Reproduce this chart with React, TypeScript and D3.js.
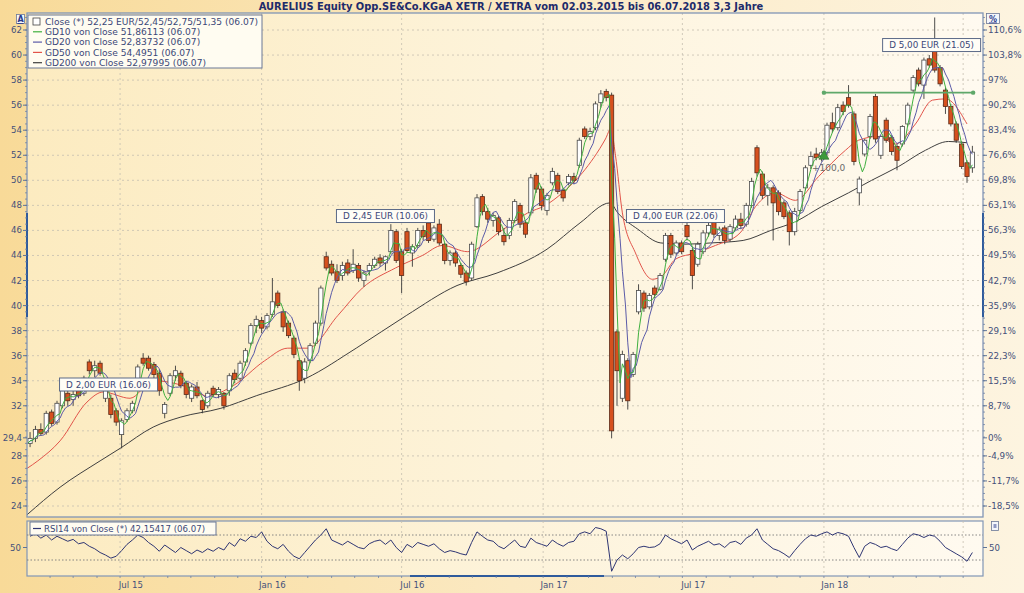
import React from 'react';
import * as d3 from 'd3';

const W = 1024;
const H = 593;
const START = '2015-03-02';
const END = '2018-07-06';

// Weekly candles [open, high, low, close]; week i starts START + 7*i days
const candles: [number, number, number, number][] = [
  [29.0, 29.9, 28.7, 29.4], [29.4, 30.4, 29.1, 30.1], [30.1, 30.6, 29.6, 29.8], [29.9, 31.6, 29.7, 31.4],
  [31.5, 31.7, 30.4, 30.6], [30.7, 32.4, 30.5, 32.2], [32.0, 33.4, 31.8, 33.2], [33.0, 33.3, 32.0, 32.4],
  [32.5, 33.3, 32.0, 32.9], [33.6, 33.9, 32.6, 32.8], [33.0, 34.4, 32.8, 34.2], [35.5, 35.7, 34.5, 34.8],
  [34.8, 35.6, 34.3, 35.2], [35.4, 35.6, 34.4, 34.6], [32.6, 33.6, 32.3, 33.2], [32.6, 32.9, 31.0, 31.3],
  [31.6, 31.8, 30.4, 30.7], [29.7, 31.0, 28.6, 30.8], [30.9, 31.8, 30.7, 31.6], [31.6, 32.4, 31.4, 32.2],
  [33.5, 35.3, 33.3, 35.1], [35.8, 36.2, 35.2, 35.4], [35.8, 36.0, 34.8, 35.0], [35.3, 35.5, 34.2, 34.5],
  [34.6, 34.9, 32.8, 33.2], [31.4, 32.3, 31.0, 32.1], [33.0, 34.6, 32.8, 34.4], [34.4, 35.2, 34.0, 34.8],
  [34.6, 34.8, 33.4, 33.6], [33.8, 34.0, 32.6, 32.9], [32.6, 33.7, 32.3, 33.5], [33.5, 33.9, 32.6, 32.8],
  [32.4, 32.5, 31.4, 31.7], [32.0, 33.2, 31.8, 33.0], [33.4, 33.6, 32.7, 32.9], [32.9, 33.5, 32.6, 33.3],
  [33.0, 33.1, 31.7, 32.0], [33.2, 34.6, 32.8, 34.4], [34.6, 34.9, 33.8, 34.1], [34.2, 35.6, 34.0, 35.4],
  [35.5, 36.6, 35.2, 36.4], [37.0, 38.6, 36.8, 38.4], [38.4, 39.2, 37.8, 38.9], [38.8, 39.1, 37.8, 38.2],
  [38.3, 39.4, 38.1, 39.2], [39.3, 42.2, 39.1, 40.3], [41.0, 41.2, 39.8, 40.0], [39.5, 39.7, 37.9, 38.3],
  [38.6, 38.8, 37.4, 37.6], [37.4, 37.6, 35.8, 36.1], [35.6, 35.8, 33.2, 34.0], [34.2, 35.8, 33.8, 35.5],
  [35.6, 37.0, 35.4, 36.8], [37.0, 38.8, 36.8, 38.6], [38.6, 41.6, 38.4, 41.4], [43.9, 44.3, 42.8, 43.0],
  [43.3, 43.6, 42.4, 42.6], [42.7, 43.3, 41.8, 42.0], [42.4, 43.5, 42.0, 43.2], [43.4, 43.7, 42.4, 42.6],
  [42.8, 44.5, 42.6, 43.3], [43.2, 43.4, 41.9, 42.2], [42.0, 42.8, 41.5, 42.6], [42.8, 43.4, 42.4, 43.2],
  [43.2, 43.9, 43.0, 43.7], [43.8, 44.1, 43.1, 43.4], [43.4, 44.0, 42.8, 43.9], [44.3, 46.5, 44.1, 46.0],
  [45.9, 46.1, 43.4, 43.6], [44.3, 44.5, 41.0, 42.4], [45.9, 46.2, 44.2, 44.4], [44.2, 44.9, 43.1, 44.7],
  [44.8, 46.2, 44.6, 46.0], [46.0, 46.4, 45.2, 45.5], [46.6, 46.9, 45.0, 45.2], [45.3, 46.4, 45.1, 46.2],
  [46.5, 46.9, 44.8, 45.0], [44.9, 45.0, 43.3, 43.6], [43.6, 44.4, 43.2, 44.2], [44.2, 44.4, 43.1, 43.4],
  [43.2, 43.4, 42.2, 42.5], [42.6, 42.8, 41.6, 41.9], [42.2, 45.1, 42.0, 44.9], [46.3, 48.9, 46.2, 48.6],
  [48.7, 48.9, 47.2, 47.5], [47.5, 47.8, 46.6, 46.9], [46.8, 47.4, 46.3, 47.2], [47.0, 47.2, 45.6, 45.9],
  [45.6, 46.2, 44.8, 45.1], [45.6, 47.0, 45.3, 46.8], [46.8, 48.5, 46.6, 48.3], [48.0, 48.2, 46.2, 46.5],
  [46.6, 46.8, 45.4, 45.7], [47.4, 50.5, 47.2, 50.2], [50.4, 50.6, 49.0, 49.3], [49.3, 49.5, 47.6, 48.0],
  [47.6, 49.0, 47.2, 48.8], [49.8, 51.0, 49.6, 50.7], [50.4, 50.6, 48.9, 49.1], [49.2, 49.4, 48.3, 48.6],
  [49.8, 50.5, 49.6, 50.3], [50.3, 50.6, 49.7, 50.0], [51.2, 53.4, 51.0, 53.2], [54.1, 54.3, 53.3, 53.5],
  [53.5, 54.2, 53.2, 53.9], [54.2, 56.3, 54.0, 56.1], [56.2, 57.2, 55.8, 56.9], [57.1, 57.3, 56.3, 56.6],
  [56.8, 57.0, 29.4, 30.0], [37.9, 38.1, 32.0, 34.8], [32.6, 36.4, 32.3, 36.1], [35.6, 35.8, 31.7, 32.4],
  [34.5, 36.3, 34.3, 36.1], [39.5, 41.7, 39.3, 41.2], [41.0, 41.2, 39.5, 39.8], [39.9, 41.0, 39.7, 40.8],
  [41.4, 41.6, 40.6, 40.9], [41.3, 42.6, 41.2, 42.4], [43.7, 45.8, 43.5, 45.6], [45.6, 45.8, 43.8, 44.1],
  [44.2, 45.2, 44.0, 45.0], [45.0, 45.2, 44.1, 44.3], [46.4, 46.8, 45.2, 45.5], [44.4, 44.6, 41.3, 42.4],
  [43.3, 45.1, 43.1, 44.9], [44.3, 46.0, 44.1, 45.8], [45.8, 46.7, 45.5, 46.4], [46.7, 46.9, 45.4, 45.7],
  [45.6, 46.3, 45.2, 46.1], [46.2, 46.4, 44.9, 45.2], [45.3, 46.5, 45.1, 46.3], [46.2, 47.2, 46.0, 46.9],
  [46.9, 47.4, 46.1, 46.4], [46.5, 48.2, 46.3, 48.0], [48.0, 50.2, 47.8, 49.9], [52.6, 52.8, 50.3, 50.6],
  [50.5, 50.7, 48.5, 48.8], [48.8, 49.7, 48.0, 49.4], [49.4, 49.6, 45.2, 48.2], [49.0, 49.2, 47.2, 47.5],
  [48.2, 48.4, 46.9, 47.1], [47.4, 47.6, 44.8, 45.9], [45.9, 47.8, 45.6, 47.5], [47.6, 49.3, 47.4, 49.1],
  [49.4, 51.2, 49.2, 51.0], [51.2, 52.3, 50.9, 51.9], [52.1, 52.6, 51.6, 51.8], [51.9, 52.5, 51.5, 52.2],
  [52.2, 54.6, 52.0, 54.4], [54.6, 55.4, 53.8, 54.1], [54.2, 56.1, 54.0, 55.8], [56.0, 56.3, 55.2, 55.5],
  [56.6, 57.6, 55.8, 56.0], [55.3, 55.5, 51.2, 51.5], [49.0, 50.3, 48.0, 50.1], [52.1, 53.3, 51.9, 53.2],
  [53.5, 55.3, 53.3, 55.1], [56.7, 56.9, 53.0, 53.3], [52.0, 53.6, 51.7, 53.5], [54.8, 55.0, 53.0, 53.2],
  [53.4, 53.6, 52.0, 52.3], [52.7, 52.9, 50.8, 51.6], [52.9, 54.4, 52.7, 54.3], [54.5, 56.2, 54.3, 56.0],
  [57.2, 58.4, 57.0, 58.2], [58.8, 59.0, 57.5, 57.7], [57.6, 59.8, 56.5, 59.6], [59.7, 60.0, 59.0, 59.2],
  [60.4, 63.0, 58.6, 58.8], [59.0, 59.2, 57.5, 57.7], [57.2, 57.4, 55.3, 55.9], [55.9, 56.1, 54.3, 54.5],
  [54.5, 54.7, 53.0, 53.2], [52.9, 53.1, 50.9, 51.1], [51.4, 51.6, 49.8, 50.3], [51.0, 52.75, 50.6, 52.25],
];

// Weekly RSI14 readings
const rsiWeekly: number[] = [
  68, 72, 65, 70, 62, 68, 64, 60, 63, 56, 58, 52, 48, 42, 38, 33, 36, 45, 55, 62,
  70, 66, 58, 52, 44, 54, 48, 42, 50, 45, 40, 46, 42, 48, 44, 50, 46, 58, 52, 64,
  60, 68, 66, 75, 60, 52, 48, 55, 44, 36, 32, 42, 52, 62, 70, 80, 62, 58, 54, 60,
  55, 50, 48, 56, 60, 62, 55, 62, 50, 42, 55, 50, 58, 55, 52, 56, 48, 42, 45, 43,
  40, 38, 58, 75, 68, 62, 60, 52, 48, 55, 62, 52, 50, 65, 58, 55, 52, 62, 56, 52,
  58, 60, 72, 75, 72, 82, 80, 76, 12, 30, 38, 32, 40, 50, 52, 50, 51, 56, 70, 64,
  60, 56, 62, 46, 52, 56, 60, 54, 56, 50, 58, 60, 55, 65, 70, 80, 62, 55, 48, 45,
  40, 34, 45, 55, 64, 70, 68, 72, 75, 70, 74, 72, 68, 50, 34, 52, 58, 55, 50, 52,
  48, 45, 55, 65, 72, 70, 66, 70, 68, 60, 50, 45, 40, 35, 28, 42,
];

// GD50 / GD200 readings [date, value]
const gd50Points: [string, number][] = [
  ['2015-03-02', 27.0], ['2015-03-16', 27.6], ['2015-04-14', 29.2], ['2015-05-19', 32.3], ['2015-06-09', 33.1],
  ['2015-07-14', 32.6], ['2015-08-13', 34.0], ['2015-09-26', 33.5], ['2015-10-22', 32.8], ['2015-11-25', 33.6],
  ['2016-01-05', 35.6], ['2016-02-04', 36.6], ['2016-03-01', 36.6], ['2016-04-09', 39.2], ['2016-05-11', 41.4],
  ['2016-06-23', 43.0], ['2016-07-28', 44.0], ['2016-08-23', 44.8], ['2016-09-25', 44.3], ['2016-11-06', 45.9],
  ['2016-12-12', 47.4], ['2017-01-04', 48.0], ['2017-01-26', 49.0], ['2017-02-21', 50.6], ['2017-03-23', 53.3],
  ['2017-03-30', 54.1], ['2017-04-05', 52.0], ['2017-04-14', 47.4], ['2017-05-01', 44.2], ['2017-05-23', 42.1],
  ['2017-06-05', 42.4], ['2017-06-22', 43.7], ['2017-07-18', 44.2], ['2017-08-13', 44.8], ['2017-09-14', 45.8],
  ['2017-10-04', 47.9], ['2017-10-30', 49.0], ['2017-11-25', 48.4], ['2017-12-25', 50.3], ['2018-01-29', 52.4],
  ['2018-02-15', 53.2], ['2018-03-13', 53.5], ['2018-04-04', 52.9], ['2018-04-30', 54.5], ['2018-05-22', 56.4],
  ['2018-06-08', 56.5], ['2018-07-06', 54.5],
];
const gd200Points: [string, number][] = [
  ['2015-03-02', 23.3], ['2015-04-14', 25.5], ['2015-06-05', 27.6], ['2015-07-01', 28.6], ['2015-08-13', 30.3],
  ['2015-09-18', 31.1], ['2015-11-09', 31.8], ['2015-12-25', 32.8], ['2016-02-28', 34.2], ['2016-05-03', 36.6],
  ['2016-07-07', 39.2], ['2016-09-11', 41.6], ['2016-11-02', 42.6], ['2017-01-06', 44.5], ['2017-02-18', 46.6],
  ['2017-03-29', 48.2], ['2017-04-08', 47.4], ['2017-05-04', 46.1], ['2017-06-03', 45.0], ['2017-07-04', 44.9],
  ['2017-08-07', 45.0], ['2017-09-18', 45.2], ['2017-10-24', 46.0], ['2017-11-25', 46.7], ['2017-12-29', 47.9],
  ['2018-02-02', 49.0], ['2018-03-04', 50.0], ['2018-04-08', 51.1], ['2018-05-13', 52.4], ['2018-06-12', 53.1],
  ['2018-07-06', 53.0],
];

// Dividend annotations [date, label, anchor price]
const dividends: [string, string, number][] = [
  ['2015-06-16', 'D 2,00 EUR (16.06)', 33.7],
  ['2016-06-10', 'D 2,45 EUR (10.06)', 47.15],
  ['2017-06-22', 'D 4,00 EUR (22.06)', 47.15],
  ['2018-05-21', 'D 5,00 EUR (21.05)', 60.8],
];

const resistance = { from: '2018-01-01', to: '2018-07-14', value: 57.0 };
const signal = { date: '2018-01-01', value: 52.0, label: '+100,0' };

const leftTicks: number[] = [62, 60, 58, 56, 54, 52, 50, 48, 46, 44, 42, 40, 38, 36, 34, 32, 29.44, 28, 26, 24];
const leftTickLabels: string[] = ['62', '60', '58', '56', '54', '52', '50', '48', '46', '44', '42', '40', '38', '36', '34', '32', '29,4', '28', '26', '24'];
const rightTickLabels: string[] = ['110,6%', '103,8%', '97%', '90,2%', '83,4%', '76,6%', '69,8%', '63,1%', '56,3%', '49,5%', '42,7%', '35,9%', '29,1%', '22,3%', '15,5%', '8,7%', '0%', '-4,9%', '-11,7%', '-18,5%'];
const gridPrices: number[] = [62, 60, 58, 56, 54, 52, 50, 48, 46, 44, 42, 40, 38, 36, 34, 32, 30, 28, 26, 24];
const xGridDates: string[] = ['2015-07-01', '2016-01-01', '2016-07-01', '2017-01-01', '2017-07-01', '2018-01-01', '2018-07-01'];
const xLabelDates: string[] = ['2015-07-15', '2016-01-15', '2016-07-15', '2017-01-15', '2017-07-15', '2018-01-15'];
const xLabels: string[] = ['Jul 15', 'Jan 16', 'Jul 16', 'Jan 17', 'Jul 17', 'Jan 18'];

const legendItems: [string, string][] = [
  ['box', 'Close (*) 52,25 EUR/52,45/52,75/51,35 (06.07)'],
  ['#3fb03f', 'GD10 von Close 51,86113 (06.07)'],
  ['#5b5ba8', 'GD20 von Close 52,83732 (06.07)'],
  ['#e2544a', 'GD50 von Close 54,4951 (06.07)'],
  ['#3f3f3f', 'GD200 von Close 52,97995 (06.07)'],
];

const TITLE = 'AURELIUS Equity Opp.SE&Co.KGaA XETR / XETRA vom 02.03.2015 bis 06.07.2018 3,3 Jahre';
const FONT = 'DejaVu Sans, Verdana, sans-serif';

export default function App() {
  const parse = d3.timeParse('%Y-%m-%d');
  const start = parse(START) as Date;
  const L = 27, R = 983, T = 13, B = 517;
  const RT = 521, RB = 576;
  const x = d3.scaleTime().domain([start, parse(END) as Date]).range([27, 967]);
  const y = d3.scaleLinear().domain([24, 62]).range([506, 30]);
  const ry = d3.scaleLinear().domain([30, 70]).range([560, 535]);
  const wd = (i: number, off: number) => d3.timeDay.offset(start, i * 7 + off);

  const half = candles.flatMap((c, i) => [
    { d: wd(i, 1), v: c[0] },
    { d: wd(i, 4), v: c[3] },
  ]);
  const ma = (n: number) =>
    half.map((p, k) => ({ d: p.d, v: d3.mean(half.slice(Math.max(0, k - n + 1), k + 1), (q) => q.v) as number }));
  const gd10 = ma(4);
  const gd20 = ma(8);
  const lineDV = d3.line<{ d: Date; v: number }>().x((p) => x(p.d)).y((p) => y(p.v));
  const linePts = d3
    .line<[string, number]>()
    .x((p) => x(parse(p[0]) as Date))
    .y((p) => y(p[1]))
    .curve(d3.curveMonotoneX);
  const rsiLine = d3
    .line<number>()
    .x((_, i) => x(wd(i, 4)))
    .y((v) => ry(v));

  const minorTicks = d3.range(24, 63.01, 0.5);
  const months = d3.timeMonth.range(d3.timeMonth.ceil(start), d3.timeDay.offset(parse(END) as Date, 20));

  return (
    <svg width={W} height={H} style={{ position: 'absolute', left: 0, top: 0 }} fontFamily={FONT}>
      <defs>
        <linearGradient id="outerG" x1="0" x2="1" y1="0" y2="0">
          <stop offset="0" stopColor="#f8da98" />
          <stop offset="0.5" stopColor="#fbe9c2" />
          <stop offset="1" stopColor="#fdf4e0" />
        </linearGradient>
        <linearGradient id="plotG" x1="0" x2="1" y1="0" y2="0">
          <stop offset="0" stopColor="#fcebc0" />
          <stop offset="0.5" stopColor="#fdf3da" />
          <stop offset="1" stopColor="#fffaf0" />
        </linearGradient>
        <clipPath id="mainClip">
          <rect x={L} y={T} width={R - L} height={B - T} />
        </clipPath>
        <clipPath id="rsiClip">
          <rect x={L} y={RT} width={R - L} height={RB - RT} />
        </clipPath>
      </defs>
      <rect width={W} height={H} fill="url(#outerG)" />
      <text x={511} y={10} textAnchor="middle" fontWeight="bold" fontSize={9.9} fill="#1d2b6b">
        {TITLE}
      </text>

      {/* main panel */}
      <rect x={L} y={T} width={R - L} height={B - T} fill="url(#plotG)" />
      {gridPrices.map((p) => (
        <line key={'hg' + p} x1={L} x2={R} y1={y(p)} y2={y(p)} stroke="#c5bfb0" strokeWidth={0.8} strokeDasharray="2,3" />
      ))}
      {xGridDates.map((d) => (
        <line key={'vg' + d} x1={x(parse(d) as Date)} x2={x(parse(d) as Date)} y1={T} y2={B} stroke="#c5bfb0" strokeWidth={0.8} strokeDasharray="2,3" />
      ))}

      <g clipPath="url(#mainClip)">
        <path d={linePts(gd200Points) || ''} fill="none" stroke="#3f3f3f" strokeWidth={1} />
        <path d={linePts(gd50Points) || ''} fill="none" stroke="#e2544a" strokeWidth={1} />
        {candles.map((c, i) => {
          const cx = x(wd(i, 4));
          const [o, h, l, cl] = c;
          const up = cl >= o;
          const top = y(Math.max(o, cl));
          const bot = y(Math.min(o, cl));
          return (
            <g key={'c' + i}>
              <line x1={cx} x2={cx} y1={y(h)} y2={y(l)} stroke="#3a3a3a" strokeWidth={0.9} />
              <rect
                x={cx - 2.1}
                y={top}
                width={4.2}
                height={Math.max(1, bot - top)}
                fill={up ? '#ffffff' : '#d6501e'}
                stroke={up ? '#4a4a4a' : '#5a2a18'}
                strokeWidth={0.8}
              />
            </g>
          );
        })}
        <path d={lineDV(gd20) || ''} fill="none" stroke="#5b5ba8" strokeWidth={1} />
        <path d={lineDV(gd10) || ''} fill="none" stroke="#3fb03f" strokeWidth={1} />

        {/* resistance line */}
        <line
          x1={x(parse(resistance.from) as Date)}
          x2={x(parse(resistance.to) as Date)}
          y1={y(resistance.value)}
          y2={y(resistance.value)}
          stroke="#5fa86a"
          strokeWidth={1.6}
        />
        {[resistance.from, resistance.to].map((d) => (
          <circle key={'rc' + d} cx={x(parse(d) as Date)} cy={y(resistance.value)} r={2.2} fill="#5fa86a" />
        ))}
        {/* signal */}
        {(() => {
          const sx = x(parse(signal.date) as Date);
          const sy = y(signal.value);
          return (
            <g>
              <path d={`M${sx - 5},${sy + 4} L${sx + 5},${sy + 4} L${sx},${sy - 5} Z`} fill="#3c9a3c" stroke="#2a6a2a" strokeWidth={0.6} />
              <text x={sx - 12} y={sy + 16} fontSize={9} fill="#6a6a6a">
                {signal.label}
              </text>
            </g>
          );
        })()}
        {/* dividend labels */}
        {dividends.map(([d, label, p]) => {
          const cx = x(parse(d) as Date);
          const cy = y(p);
          const w = 98;
          return (
            <g key={'dv' + d}>
              <rect x={cx - w / 2} y={cy - 6.5} width={w} height={13} fill="#fffdf6" stroke="#5c6a88" strokeWidth={1} />
              <text x={cx} y={cy + 3.2} textAnchor="middle" fontSize={8.8} fill="#3b4878">
                {label}
              </text>
            </g>
          );
        })}
      </g>

      {/* legend */}
      <rect x={28} y={15} width={234} height={53} fill="#fffcf1" stroke="#6b7896" strokeWidth={1} />
      {legendItems.map(([c, t], k) => {
        const ly = 21.5 + k * 10.3;
        return (
          <g key={'lg' + k}>
            {c === 'box' ? (
              <rect x={33} y={ly - 3.5} width={7} height={7} fill="#fff" stroke="#444" strokeWidth={0.8} />
            ) : (
              <line x1={33} x2={42} y1={ly} y2={ly} stroke={c} strokeWidth={1.2} />
            )}
            <text x={45} y={ly + 3.2} fontSize={9.1} fill="#3b4878">
              {t}
            </text>
          </g>
        );
      })}

      {/* frame */}
      <rect x={L} y={T} width={R - L} height={B - T} fill="none" stroke="#8196b6" strokeWidth={1.3} />
      <line x1={L} x2={L} y1={213} y2={317} stroke="#2f5b9c" strokeWidth={2} />
      <line x1={R} x2={R} y1={213} y2={317} stroke="#2f5b9c" strokeWidth={2} />

      {/* axes */}
      {minorTicks.map((p) => (
        <g key={'mt' + p}>
          <line x1={L - 2} x2={L} y1={y(p)} y2={y(p)} stroke="#6d82a6" strokeWidth={0.8} />
          <line x1={R} x2={R + 2} y1={y(p)} y2={y(p)} stroke="#6d82a6" strokeWidth={0.8} />
        </g>
      ))}
      {leftTicks.map((p, k) => (
        <g key={'lt' + k}>
          <line x1={L - 4} x2={L} y1={y(p)} y2={y(p)} stroke="#5f7498" strokeWidth={1} />
          <line x1={R} x2={R + 4} y1={y(p)} y2={y(p)} stroke="#5f7498" strokeWidth={1} />
          <text x={L - 5} y={y(p) + 3} textAnchor="end" fontSize={8.6} fill="#44507a">
            {leftTickLabels[k]}
          </text>
          <text x={R + 5} y={y(p) + 3} fontSize={8.8} fill="#44507a">
            {rightTickLabels[k]}
          </text>
        </g>
      ))}
      <rect x={16.5} y={14.5} width={8} height={9} fill="#f4f6fb" stroke="#6b7896" strokeWidth={0.8} />
      <text x={20.5} y={22} textAnchor="middle" fontSize={8} fontWeight="bold" fill="#2a3a8a" textDecoration="underline">
        A
      </text>
      <rect x={986.5} y={13.5} width={13} height={10} fill="#f4f6fb" stroke="#6b7896" strokeWidth={0.8} />
      <text x={993} y={21.5} textAnchor="middle" fontSize={8} fontWeight="bold" fill="#2a3a8a" textDecoration="underline">
        %
      </text>

      {/* RSI panel */}
      <rect x={L} y={RT} width={R - L} height={RB - RT} fill="url(#plotG)" stroke="#8196b6" strokeWidth={1.2} />
      {xGridDates.map((d) => (
        <line key={'rvg' + d} x1={x(parse(d) as Date)} x2={x(parse(d) as Date)} y1={RT} y2={RB} stroke="#c5bfb0" strokeWidth={0.8} strokeDasharray="2,3" />
      ))}
      {[70, 30].map((v) => (
        <line key={'rl' + v} x1={L} x2={R} y1={ry(v)} y2={ry(v)} stroke="#7a7a7a" strokeWidth={0.9} strokeDasharray="1.5,2" />
      ))}
      <g clipPath="url(#rsiClip)">
        <path d={rsiLine(rsiWeekly) || ''} fill="none" stroke="#2e3573" strokeWidth={1} />
      </g>
      <rect x={30} y={522} width={186} height={13} fill="#fffcf1" stroke="#6b7896" strokeWidth={1} />
      <line x1={33} x2={41} y1={528.5} y2={528.5} stroke="#2e3573" strokeWidth={1.2} />
      <text x={44} y={531.8} fontSize={8.6} fill="#3b4878">
        RSI14 von Close (*) 42,15417 (06.07)
      </text>
      <line x1={L - 4} x2={L} y1={ry(50)} y2={ry(50)} stroke="#5f7498" />
      <line x1={R} x2={R + 4} y1={ry(50)} y2={ry(50)} stroke="#5f7498" />
      <text x={L - 6} y={ry(50) + 3} textAnchor="end" fontSize={8.6} fill="#44507a">
        50
      </text>
      <text x={R + 6} y={ry(50) + 3} fontSize={8.6} fill="#44507a">
        50
      </text>
      <rect x={991.5} y={521.5} width={7} height={9} fill="#f4f6fb" stroke="#6b7896" strokeWidth={0.8} />
      <line x1={993.5} x2={996.5} y1={525} y2={525} stroke="#2a3a8a" />
      <line x1={993.5} x2={996.5} y1={527} y2={527} stroke="#2a3a8a" />
      <line x1={410} x2={604} y1={RB} y2={RB} stroke="#2f5b9c" strokeWidth={2} />

      {/* x axis */}
      {months.map((m) => (
        <line key={'xm' + m.getTime()} x1={x(m)} x2={x(m)} y1={RB} y2={RB + 2} stroke="#6d82a6" strokeWidth={0.8} />
      ))}
      {xLabels.map((t, k) => (
        <text key={'xl' + k} x={x(parse(xLabelDates[k]) as Date)} y={588} textAnchor="middle" fontSize={8.6} fill="#44507a">
          {t}
        </text>
      ))}
    </svg>
  );
}
